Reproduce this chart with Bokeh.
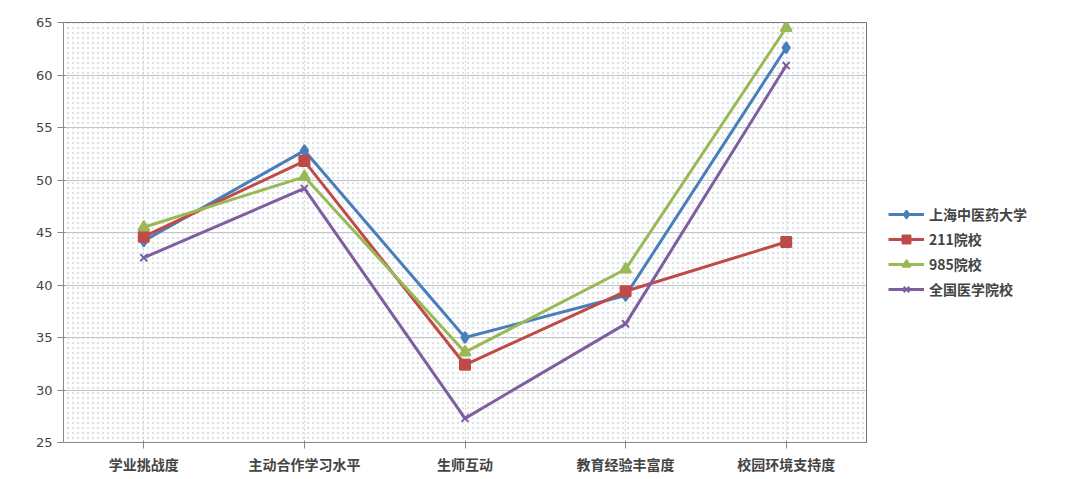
from bokeh.plotting import figure
from bokeh.models import Legend, BoxAnnotation, Range1d, FixedTicker
from bokeh.embed import file_html
from bokeh.resources import INLINE

categories = ["学业挑战度", "主动合作学习水平", "生师互动", "教育经验丰富度", "校园环境支持度"]
shanghai = [44.2, 52.8, 35.0, 39.0, 62.6]
u211 = [44.6, 51.8, 32.4, 39.4, 44.1]
u985 = [45.5, 50.3, 33.6, 41.5, 64.5]
national = [42.6, 49.2, 27.3, 36.3, 60.9]

font = "Noto Sans CJK SC"
p = figure(x_range=categories, frame_width=803, frame_height=420, output_backend="svg",
           toolbar_location=None, min_border_left=63, min_border_top=22,
           min_border_bottom=5, min_border_right=10)
p.y_range = Range1d(25, 65)
p.yaxis.ticker = FixedTicker(ticks=list(range(25, 70, 5)))
p.outline_line_color = "#666666"
p.background_fill_color = "white"
p.add_layout(BoxAnnotation(fill_color="white", hatch_pattern="dot", hatch_color="#c4ccd4",
                           hatch_scale=5, hatch_alpha=0.6, line_color=None, level="underlay"))
p.ygrid.grid_line_color = "#999999"
p.xgrid.grid_line_color = "#bbbbbb"
p.xgrid.grid_line_dash = "2 2"
for ax in (p.xaxis, p.yaxis):
    ax.major_label_text_font = font
    ax.major_label_text_font_style = "bold"
    ax.major_label_text_font_size = "14px"
    ax.axis_line_color = "#888888"
    ax.major_tick_line_color = "#888888"
    ax.minor_tick_line_color = None
p.yaxis.major_label_text_font = "DejaVu Sans"
p.yaxis.major_label_text_font_style = "normal"
p.yaxis.major_label_text_font_size = "13px"

items = []
specs = [("上海中医药大学", shanghai, "#4a7ebb", "diamond", 11),
         ("211院校", u211, "#be4b48", "square", 10),
         ("985院校", u985, "#98b954", "triangle", 11),
         ("全国医学院校", national, "#7d5fa0", "x", 10)]
for name, vals, color, marker, size in specs:
    r1 = p.line(categories, vals, line_color=color, line_width=3)
    r2 = p.scatter(categories, vals, marker=marker, size=size, fill_color=color,
                   line_color=color, line_width=2)
    items.append((name, [r1, r2]))

legend = Legend(items=items, label_text_font=font, label_text_font_style="bold",
                label_text_font_size="14px", border_line_color=None,
                spacing=5, margin=0, padding=4, glyph_width=36,
                location=(22, 143))
p.add_layout(legend, "right")

open("out.html", "w").write(file_html(p, INLINE))
